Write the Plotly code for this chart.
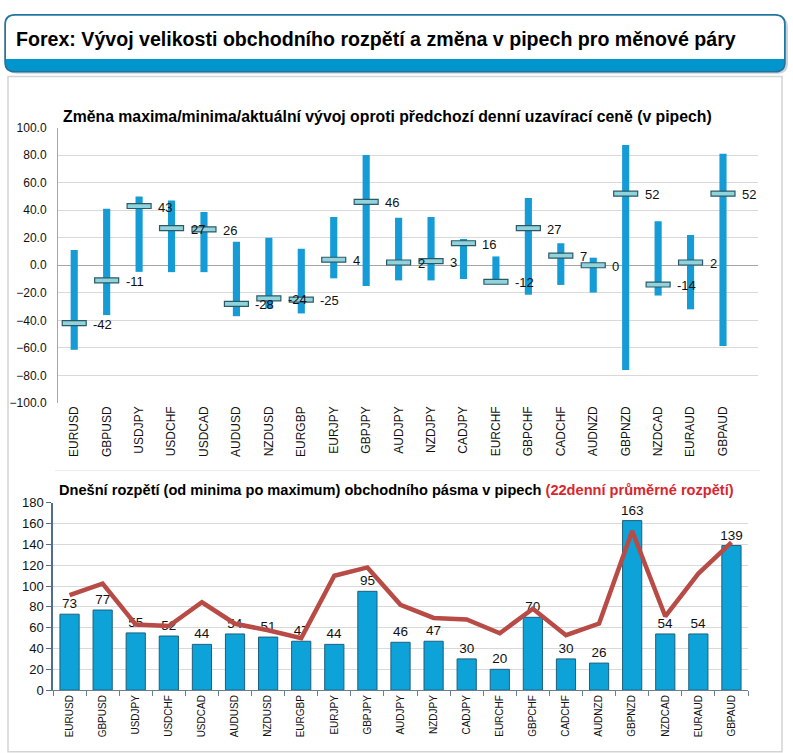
import plotly.graph_objects as go

pairs = ["EURUSD", "GBPUSD", "USDJPY", "USDCHF", "USDCAD", "AUDUSD", "NZDUSD",
         "EURGBP", "EURJPY", "GBPJPY", "AUDJPY", "NZDJPY", "CADJPY", "EURCHF",
         "GBPCHF", "CADCHF", "AUDNZD", "GBPNZD", "NZDCAD", "EURAUD", "GBPAUD"]

chg_max = [11, 41, 50, 47, 38.6, 17, 20, 12, 35, 80, 34.5, 35, 19, 6.4, 48.8, 16, 5.5, 87.4, 32, 22, 81]
chg_min = [-61.4, -36.2, -4.8, -5, -5, -37, -31.4, -35, -9.5, -15, -11, -11, -10, -13, -21.4, -14.3, -19.8, -76, -22, -32, -58.6]
chg_cur = [-42, -11, 43, 27, 26, -28, -24, -25, 4, 46, 2, 3, 16, -12, 27, 7, 0, 52, -14, 2, 52]

range_today = [73, 77, 55, 52, 44, 54, 51, 47, 44, 95, 46, 47, 30, 20, 70, 30, 26, 163, 54, 54, 139]
range_avg22 = [91.4, 102.4, 63, 61.6, 84.5, 63.8, 57.5, 50, 110, 118, 82, 69.4, 67.9, 54.7, 78.2, 52.8, 64, 153, 71, 112, 142]

top_ticks = [-100, -80, -60, -40, -20, 0, 20, 40, 60, 80, 100]
bot_ticks = [0, 20, 40, 60, 80, 100, 120, 140, 160, 180]

W, H = 793, 753
FONT = "Liberation Sans"

def px(x):
    return x / W

def py(y):
    return 1 - y / H

fig = go.Figure()

# --- top chart: min-max range bars
fig.add_trace(go.Bar(
    x=pairs, y=[a - b for a, b in zip(chg_max, chg_min)], base=chg_min,
    width=0.22, marker=dict(color="#159bd5", line=dict(width=0)),
    xaxis="x", yaxis="y", hoverinfo="skip", showlegend=False))
# current value markers (pill)
PILL = 3.6
fig.add_trace(go.Bar(
    x=pairs, y=[PILL] * len(pairs), base=[c - PILL / 2 for c in chg_cur],
    width=0.74, marker=dict(color="#8fd3dc", line=dict(color="#2f5866", width=1.2)),
    xaxis="x", yaxis="y", hoverinfo="skip", showlegend=False))

for p, c in zip(pairs, chg_cur):
    fig.add_annotation(x=p, y=c, xref="x", yref="y", text=str(c), showarrow=False,
                       xanchor="left", xshift=17, yshift=-1,
                       font=dict(family=FONT, size=13, color="#111"))

# --- bottom chart
fig.add_trace(go.Bar(
    x=pairs, y=range_today, width=0.58,
    marker=dict(color="#0ea3d8", line=dict(color="#1d5f7c", width=1)),
    text=[str(v) for v in range_today], textposition="outside", cliponaxis=False,
    constraintext="none",
    textfont=dict(family=FONT, size=13.5, color="#111"),
    xaxis="x2", yaxis="y2", hoverinfo="skip", showlegend=False))
fig.add_trace(go.Scatter(
    x=pairs, y=range_avg22, mode="lines",
    line=dict(color="#b94b46", width=4.5),
    xaxis="x2", yaxis="y2", hoverinfo="skip", showlegend=False))

shapes = []
# charts panel
shapes.append(dict(type="rect", xref="paper", yref="paper",
                   x0=px(8), x1=px(782), y0=py(760), y1=py(71),
                   line=dict(color="#d4d4d4", width=1.5), fillcolor="rgba(0,0,0,0)", layer="below"))
shapes.append(dict(type="line", xref="paper", yref="paper",
                   x0=px(55), x1=px(760), y0=py(473), y1=py(473),
                   line=dict(color="#ececec", width=1), layer="below"))

# header box
def rounded_path(x0, y0, x1, y1, r, top=True, bottom=True):
    X0, X1 = px(x0), px(x1)
    Y0, Y1 = py(y0), py(y1)
    rx, ry = r / W, r / H
    d = []
    if top:
        d.append(f"M {X0} {Y0 - ry}")
        d.append(f"Q {X0} {Y0} {X0 + rx} {Y0}")
        d.append(f"L {X1 - rx} {Y0}")
        d.append(f"Q {X1} {Y0} {X1} {Y0 - ry}")
    else:
        d.append(f"M {X0} {Y0}")
        d.append(f"L {X1} {Y0}")
    if bottom:
        d.append(f"L {X1} {Y1 + ry}")
        d.append(f"Q {X1} {Y1} {X1 - rx} {Y1}")
        d.append(f"L {X0 + rx} {Y1}")
        d.append(f"Q {X0} {Y1} {X0} {Y1 + ry}")
    else:
        d.append(f"L {X1} {Y1}")
        d.append(f"L {X0} {Y1}")
    d.append("Z")
    return " ".join(d)

shapes.append(dict(type="path", xref="paper", yref="paper",
                   path=rounded_path(7, 10, 788, 68, 10),
                   fillcolor="#c8d3da", line=dict(width=0), layer="below"))
shapes.append(dict(type="path", xref="paper", yref="paper",
                   path=rounded_path(5, 8, 785, 66, 10),
                   fillcolor="#0095cc", line=dict(color="#2a6f96", width=1.5), layer="below"))
shapes.append(dict(type="path", xref="paper", yref="paper",
                   path=rounded_path(6, 9, 784, 53, 9, top=True, bottom=False),
                   fillcolor="white", line=dict(width=0), layer="below"))

annotations = list(fig.layout.annotations)
annotations.append(dict(xref="paper", yref="paper", x=px(14), y=py(33), xanchor="left", yanchor="middle",
                        text="<b>Forex: Vývoj velikosti obchodního rozpětí a změna v pipech pro měnové páry</b>",
                        showarrow=False, font=dict(family=FONT, size=19.6, color="#000")))
annotations.append(dict(xref="paper", yref="paper", x=px(61), y=py(112), xanchor="left", yanchor="middle",
                        text="<b>Změna maxima/minima/aktuální vývoj oproti předchozí denní uzavírací ceně (v pipech)</b>",
                        showarrow=False, font=dict(family=FONT, size=15.8, color="#000")))
annotations.append(dict(xref="paper", yref="paper", x=px(57), y=py(493), xanchor="left", yanchor="middle",
                        text="<b>Dnešní rozpětí (od minima po maximum) obchodního pásma v pipech </b>"
                             "<b><span style='color:#d9262e'>(22denní průměrné rozpětí)</span></b>",
                        showarrow=False, font=dict(family=FONT, size=14.6, color="#000")))

fig.update_layout(
    width=W, height=H, margin=dict(l=0, r=0, t=0, b=0),
    paper_bgcolor="white", plot_bgcolor="white",
    barmode="overlay", showlegend=False,
    font=dict(family=FONT, color="#222"),
    shapes=shapes, annotations=annotations,
    xaxis=dict(domain=[px(58), px(758)], anchor="y", type="category",
               showgrid=False, showline=False, ticks="", tickangle=-90,
               tickfont=dict(family=FONT, size=12, color="#111")),
    yaxis=dict(domain=[py(404), py(123)], anchor="x", range=[-100, 100],
               tickvals=top_ticks, tickformat=".1f",
               showgrid=True, gridcolor="#d9d9d9", gridwidth=1,
               zeroline=True, zerolinecolor="#a6a6a6", zerolinewidth=1,
               showline=True, linecolor="#a6a6a6", linewidth=1, ticks="",
               ticklabelstandoff=8,
               tickfont=dict(family=FONT, size=12, color="#111")),
    xaxis2=dict(domain=[px(53), px(748)], anchor="y2", type="category",
                showgrid=False, showline=True, linecolor="#6a7f91", linewidth=1,
                ticks="outside", ticklen=5, tickcolor="#6a7f91", tickson="boundaries",
                tickangle=-90, tickfont=dict(family=FONT, size=10, color="#111")),
    yaxis2=dict(domain=[py(697), py(506)], anchor="x2", range=[0, 180],
                tickvals=bot_ticks,
                showgrid=True, gridcolor="#d9d9d9", gridwidth=1, zeroline=False,
                showline=True, linecolor="#4f6f8f", linewidth=1.5,
                ticks="outside", ticklen=5, tickcolor="#4f6f8f",
                tickfont=dict(family=FONT, size=13, color="#111")),
)

fig.write_html("out.html", config={"displayModeBar": False},
               post_script="document.body.style.margin='0';document.body.style.overflow='hidden';")
